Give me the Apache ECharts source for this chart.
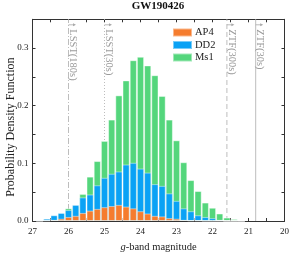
<!DOCTYPE html>
<html>
<head>
<meta charset="utf-8">
<script src="https://cdn.jsdelivr.net/npm/echarts@6/dist/echarts.min.js"></script>
<style>html,body{margin:0;padding:0;background:#fff;}#c{width:293px;height:264px;}</style>
</head>
<body>
<div id="c"></div>
<script>
// bin centres (g-band magnitude)
const mags = [26.8, 26.6, 26.4, 26.2, 26.0, 25.8, 25.6, 25.4, 25.2, 25.0, 24.8, 24.6, 24.4, 24.2, 24.0, 23.8, 23.6, 23.4, 23.2, 23.0, 22.8, 22.6, 22.4, 22.2, 22.0, 21.8, 21.6, 21.4, 21.2];
const ms1 = [0.001, 0.003, 0.008, 0.012, 0.022, 0.026, 0.047, 0.077, 0.104, 0.139, 0.176, 0.218, 0.244, 0.279, 0.285, 0.270, 0.253, 0.217, 0.176, 0.140, 0.102, 0.071, 0.052, 0.032, 0.023, 0.013, 0.006, 0.0035, 0.0015];
const dd2 = [0.002, 0.004, 0.010, 0.014, 0.019, 0.028, 0.041, 0.046, 0.062, 0.075, 0.082, 0.086, 0.098, 0.101, 0.091, 0.084, 0.064, 0.061, 0.048, 0.035, 0.022, 0.017, 0.010, 0.007, 0.005, 0.002, 0, 0, 0];
const ap4 = [0, 0.001, 0.002, 0.004, 0.007, 0.009, 0.014, 0.018, 0.021, 0.024, 0.026, 0.028, 0.025, 0.022, 0.017, 0.013, 0.009, 0.008, 0.005, 0.004, 0.002, 0.001, 0.001, 0, 0, 0, 0, 0, 0];
// survey limiting magnitudes
const limitMags = [26.0, 25.0, 21.6, 20.8];
const limitLabels = ['LSST(180s)', 'LSST(30s)', 'ZTF(300s)', 'ZTF(30s)'];
const xTicks = [27, 26, 25, 24, 23, 22, 21, 20];
const yTicks = [0.0, 0.1, 0.2, 0.3];

const FONT = '"Liberation Serif", "Times New Roman", serif';
const AXC = '#333';
const dashes = [[6, 2, 1, 2], [1, 2], [5, 3], null];

const chart = echarts.init(document.getElementById('c'), null, {renderer: 'canvas'});
const pair = (arr) => mags.map((m, i) => [m, arr[i]]);
const barCommon = {
  type: 'bar', barWidth: 7.2, barGap: '-100%',
  itemStyle: {borderColor: 'rgba(255,255,255,0.45)', borderWidth: 1},
  emphasis: {disabled: true}
};
const xBase = {
  type: 'value', min: 20, max: 27, interval: 0.5, inverse: true,
  axisLine: {show: true, onZero: false, lineStyle: {color: AXC, width: 1}},
  axisTick: {show: true, inside: true, length: 3, lineStyle: {color: AXC}},
  splitLine: {show: false}
};
const yBase = {
  type: 'value', min: 0, max: 0.35, interval: 0.05,
  axisLine: {show: true, lineStyle: {color: AXC, width: 1}},
  axisTick: {show: true, inside: true, length: 3, lineStyle: {color: AXC}},
  splitLine: {show: false}
};

chart.setOption({
  animation: false,
  title: {
    text: 'GW190426', left: 158, top: 1, padding: 0, textAlign: 'center',
    textStyle: {fontFamily: FONT, fontSize: 11, fontWeight: 'bold', color: '#111'}
  },
  legend: {
    data: ['AP4', 'DD2', 'Ms1'], orient: 'vertical', left: 172, top: 27, padding: 0,
    itemWidth: 19, itemHeight: 8, itemGap: 1.5,
    textStyle: {fontFamily: FONT, fontSize: 10.5, color: '#222', padding: [0, 0, 0, -2]},
    icon: 'rect'
  },
  grid: {left: 32.5, right: 8.5, top: 19.3, bottom: 43, containLabel: false, outerBoundsMode: 'none'},
  xAxis: [
    Object.assign({}, xBase, {
      position: 'bottom',
      name: '{i|g}-band magnitude', nameLocation: 'middle', nameGap: 21, nameMoveOverlap: false,
      nameTextStyle: {fontFamily: FONT, fontSize: 10.5, color: '#222', rich: {i: {fontStyle: 'italic', fontFamily: FONT, fontSize: 10.5, color: '#222'}}},
      axisLabel: {
        fontFamily: FONT, fontSize: 9, color: '#222', margin: 6,
        formatter: (v) => xTicks.indexOf(Math.round(v * 2) / 2) >= 0 && Math.abs(v - Math.round(v)) < 1e-6 ? String(Math.round(v)) : ''
      }
    }),
    Object.assign({}, xBase, {position: 'top', axisLabel: {show: false}})
  ],
  yAxis: [
    Object.assign({}, yBase, {
      position: 'left',
      name: 'Probability Density Function', nameLocation: 'middle', nameGap: 16, nameMoveOverlap: false,
      nameTextStyle: {fontFamily: FONT, fontSize: 12, color: '#222', padding: [0, 14, 0, 0]},
      axisLabel: {
        fontFamily: FONT, fontSize: 9, color: '#222', margin: 4, showMaxLabel: false,
        formatter: (v) => {
          const t = yTicks.find(k => Math.abs(k - v) < 1e-6);
          return t === undefined ? '' : t.toFixed(1);
        }
      }
    }),
    Object.assign({}, yBase, {position: 'right', axisLabel: {show: false}})
  ],
  series: [
    Object.assign({}, barCommon, {name: 'Ms1', data: pair(ms1), itemStyle: Object.assign({}, barCommon.itemStyle, {color: '#54d67c'})}),
    Object.assign({}, barCommon, {name: 'DD2', data: pair(dd2), itemStyle: Object.assign({}, barCommon.itemStyle, {color: '#0aa2f5'})}),
    Object.assign({}, barCommon, {name: 'AP4', data: pair(ap4), itemStyle: Object.assign({}, barCommon.itemStyle, {color: '#f57c2e'})}),
    {
      type: 'custom', name: 'limits', silent: true, z: 1,
      data: limitMags.map((m, i) => [m, i]),
      encode: {x: 0},
      renderItem: (params, api) => {
        const m = api.value(0);
        const i = api.value(1);
        const p0 = api.coord([m, 0]);
        const p1 = api.coord([m, 0.35]);
        const ay = p1[1] + 5.5;
        return {
          type: 'group',
          children: [
            {type: 'line', shape: {x1: p0[0], y1: p0[1], x2: p1[0], y2: p1[1]},
             style: {stroke: '#bdbdbd', lineWidth: 1, lineDash: dashes[i]}},
            {type: 'line', shape: {x1: p1[0], y1: ay, x2: p1[0] + 6, y2: ay},
             style: {stroke: '#aaaaaa', lineWidth: 0.8}},
            {type: 'polygon', shape: {points: [[p1[0] + 7.5, ay], [p1[0] + 4.5, ay - 1.5], [p1[0] + 4.5, ay + 1.5]]},
             style: {fill: '#aaaaaa'}},
            {type: 'text', x: p1[0] + 4.5, y: p1[1] + 10, rotation: -Math.PI / 2,
             style: {text: limitLabels[i], fontFamily: FONT, fontSize: 10.5, fill: '#9a9a9a', align: 'left', verticalAlign: 'middle'}}
          ]
        };
      }
    }
  ]
});
</script>
</body>
</html>
